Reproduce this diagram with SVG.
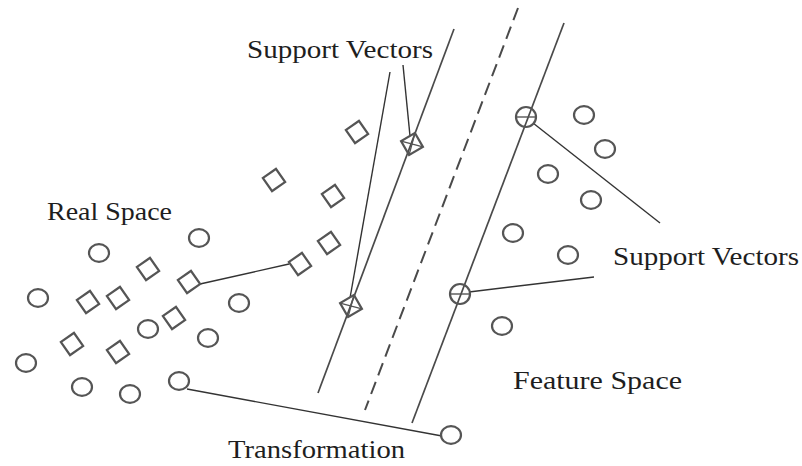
<svg xmlns="http://www.w3.org/2000/svg" xmlns:xlink="http://www.w3.org/1999/xlink" width="802" height="466" viewBox="0 0 802 466">
<style>
  .bg{fill:#fff}
  .pt{fill:none;stroke:#555;stroke-width:2.2}
  .hp{fill:none;stroke:#4a4a4a;stroke-width:1.7}
  .dash{fill:none;stroke:#4a4a4a;stroke-width:2;stroke-dasharray:13 7}
  .ptr{fill:none;stroke:#333;stroke-width:1.4}
  .lbl{font-family:"Liberation Serif","Times New Roman",serif;font-size:26px;fill:#1e1e1e}
</style>
<defs>
  <ellipse id="circ" class="pt" cx="0" cy="0" rx="10" ry="8.8"/>
  <rect id="sq" class="pt" x="-8" y="-8" width="16" height="16" transform="rotate(-35)"/>
  <g id="sqx" class="pt">
    <rect x="-8" y="-8" width="16" height="16" transform="rotate(-30)"/>
    <path d="M-8,-8 L8,8 M-8,8 L8,-8" transform="rotate(-30)" stroke-width="1.4"/>
  </g>
  <g id="cplus" class="pt">
    <circle cx="0" cy="0" r="10"/>
    <path d="M-10,0 L10,0" stroke-width="1.4"/>
  </g>
</defs>
<rect class="bg" x="0" y="0" width="802" height="466"/>

<g id="hyperplanes">
  <line class="hp" x1="454" y1="29" x2="318" y2="393"/>
  <line class="dash" x1="518" y1="8" x2="365" y2="410"/>
  <line class="hp" x1="564" y1="23" x2="412" y2="423"/>
</g>

<g id="connectors">
  <line class="ptr" x1="200" y1="284" x2="289" y2="264"/>
  <line class="ptr" x1="187" y1="389" x2="442" y2="436"/>
  <line class="ptr" x1="390" y1="72" x2="350" y2="298"/>
  <line class="ptr" x1="403" y1="65" x2="410" y2="136"/>
  <line class="ptr" x1="533" y1="123" x2="660" y2="223"/>
  <line class="ptr" x1="469" y1="292" x2="594" y2="277"/>
</g>

<g id="real-space">
  <g id="rc1"><use xlink:href="#circ" x="99" y="253"/></g>
  <g id="rc2"><use xlink:href="#circ" x="199" y="238"/></g>
  <g id="rc3"><use xlink:href="#circ" x="38" y="298"/></g>
  <g id="rc4"><use xlink:href="#circ" x="239" y="303"/></g>
  <g id="rc5"><use xlink:href="#circ" x="148" y="329"/></g>
  <g id="rc6"><use xlink:href="#circ" x="208" y="338"/></g>
  <g id="rc7"><use xlink:href="#circ" x="26" y="363"/></g>
  <g id="rc8"><use xlink:href="#circ" x="82" y="387"/></g>
  <g id="rc9"><use xlink:href="#circ" x="130" y="394"/></g>
  <g id="rc10"><use xlink:href="#circ" x="179" y="381"/></g>
  <g id="rs1"><use xlink:href="#sq" x="148" y="269"/></g>
  <g id="rs2"><use xlink:href="#sq" x="189" y="282"/></g>
  <g id="rs3"><use xlink:href="#sq" x="88" y="302"/></g>
  <g id="rs4"><use xlink:href="#sq" x="118" y="298"/></g>
  <g id="rs5"><use xlink:href="#sq" x="174" y="318"/></g>
  <g id="rs6"><use xlink:href="#sq" x="72" y="344"/></g>
  <g id="rs7"><use xlink:href="#sq" x="118" y="352"/></g>
</g>

<g id="feature-space">
  <g id="fs1"><use xlink:href="#sq" x="357" y="132"/></g>
  <g id="fs2"><use xlink:href="#sq" x="274" y="180"/></g>
  <g id="fs3"><use xlink:href="#sq" x="333" y="196"/></g>
  <g id="fs4"><use xlink:href="#sq" x="329" y="243"/></g>
  <g id="fs5"><use xlink:href="#sq" x="300" y="264"/></g>
  <g id="sv-sq1"><use xlink:href="#sqx" x="412" y="144"/></g>
  <g id="sv-sq2"><use xlink:href="#sqx" x="351" y="306"/></g>
  <g id="fc1"><use xlink:href="#circ" x="584" y="115"/></g>
  <g id="fc2"><use xlink:href="#circ" x="605" y="149"/></g>
  <g id="fc3"><use xlink:href="#circ" x="548" y="174"/></g>
  <g id="fc4"><use xlink:href="#circ" x="591" y="200"/></g>
  <g id="fc5"><use xlink:href="#circ" x="513" y="233"/></g>
  <g id="fc6"><use xlink:href="#circ" x="568" y="255"/></g>
  <g id="fc7"><use xlink:href="#circ" x="502" y="326"/></g>
  <g id="fc8"><use xlink:href="#circ" x="451" y="435"/></g>
  <g id="sv-c1"><use xlink:href="#cplus" x="526" y="117"/></g>
  <g id="sv-c2"><use xlink:href="#cplus" x="460" y="294"/></g>
</g>

<g id="labels">
  <text class="lbl" x="247" y="58" textLength="186" lengthAdjust="spacingAndGlyphs">Support Vectors</text>
  <text class="lbl" x="47" y="220" textLength="125" lengthAdjust="spacingAndGlyphs">Real Space</text>
  <text class="lbl" x="613" y="265" textLength="186" lengthAdjust="spacingAndGlyphs">Support Vectors</text>
  <text class="lbl" x="513" y="389" textLength="169" lengthAdjust="spacingAndGlyphs">Feature Space</text>
  <text class="lbl" x="228" y="458" textLength="177" lengthAdjust="spacingAndGlyphs">Transformation</text>
</g>
</svg>
